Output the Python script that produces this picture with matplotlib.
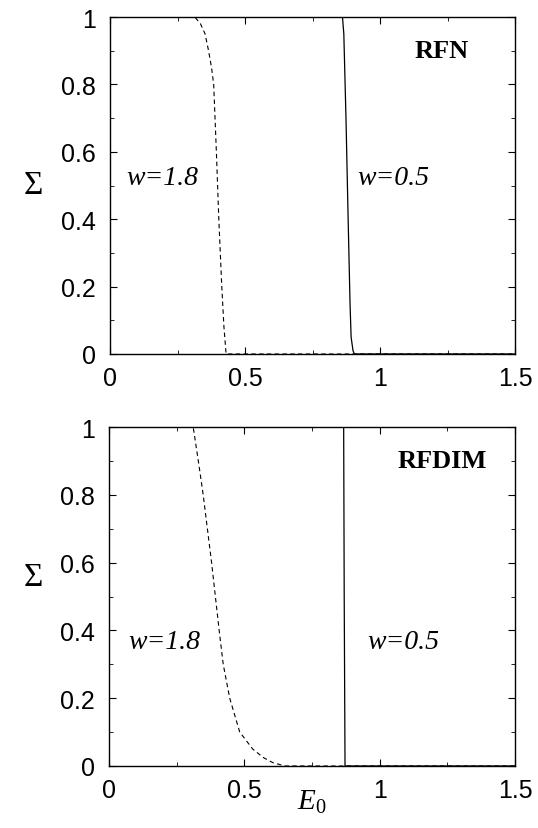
import numpy as np
import matplotlib
matplotlib.use('Agg')
import matplotlib.pyplot as plt
from matplotlib.ticker import MultipleLocator

# RFN panel
rfn_e_w18 = [0.0, 0.314, 0.335, 0.352, 0.365, 0.376, 0.384, 0.394, 0.403, 0.414, 0.422, 0.430, 1.5]
rfn_s_w18 = [1.0, 1.0, 0.98, 0.95, 0.9, 0.85, 0.8, 0.6, 0.4, 0.2, 0.08, 0.0, 0.0]
rfn_e_w05 = [0.0, 0.861, 0.866, 0.874, 0.882, 0.889, 0.893, 0.900, 0.905, 1.5]
rfn_s_w05 = [1.0, 1.0, 0.95, 0.7, 0.4, 0.15, 0.05, 0.01, 0.0, 0.0]

# RFDIM panel
rfd_e_w18 = [0.0, 0.311, 0.33, 0.348, 0.379, 0.407, 0.422, 0.446, 0.483, 0.531, 0.57, 0.605, 0.65, 1.5]
rfd_s_w18 = [1.0, 1.0, 0.9, 0.8, 0.6, 0.4, 0.3, 0.2, 0.1, 0.05, 0.025, 0.01, 0.0, 0.0]
rfd_e_w05 = [0.0, 0.867, 0.869, 0.872, 1.5]
rfd_s_w05 = [1.0, 1.0, 0.5, 0.0, 0.0]

panels = [
    (rfn_e_w18, rfn_s_w18, rfn_e_w05, rfn_s_w05, 'RFN', (0.06, 0.525), (0.915, 0.525)),
    (rfd_e_w18, rfd_s_w18, rfd_e_w05, rfd_s_w05, 'RFDIM', (0.07, 0.366), (0.955, 0.366)),
]

plt.rcParams['font.family'] = ['Liberation Sans', 'DejaVu Sans']
plt.rcParams['mathtext.fontset'] = 'custom'
plt.rcParams['mathtext.it'] = 'Liberation Serif:italic'
plt.rcParams['mathtext.rm'] = 'Liberation Serif'
fig = plt.figure(figsize=(5.38, 8.29), dpi=100)

boxes = [[110/538, 1-355/829, 405/538, 337/829],
         [109/538, 1-767/829, 406/538, 339/829]]
sigma_y = [186, 578]

for i, (e1, s1, e2, s2, name, p1, p2) in enumerate(panels):
    ax = fig.add_axes(boxes[i])
    ax.plot(e1, s1, color='black', lw=0.8, dashes=(4, 3))
    ax.plot(e2, s2, color='black', lw=0.9)
    ax.set_xlim(0, 1.5)
    ax.set_ylim(0, 1)
    ax.set_xticks([0, 0.5, 1.0, 1.5])
    ax.set_xticklabels(['0', '0.5', '1', '1.5'])
    ax.xaxis.set_minor_locator(MultipleLocator(0.25))
    ax.set_yticks([0, 0.2, 0.4, 0.6, 0.8, 1.0])
    ax.set_yticklabels(['0', '0.2', '0.4', '0.6', '0.8', '1'])
    ax.yaxis.set_minor_locator(MultipleLocator(0.1))
    ax.tick_params(which='both', direction='in', top=True, right=True, labelsize=18)
    ax.tick_params(which='major', length=5)
    ax.tick_params(axis='y', which='major', pad=10)
    ax.tick_params(axis='x', which='major', pad=9)
    ax.tick_params(which='minor', length=3)
    for sp in ax.spines.values():
        sp.set_linewidth(1.0)
    ax.text(p1[0], p1[1], 'w=1.8', family='Liberation Serif', style='italic',
            fontsize=20, va='center', ha='left')
    ax.text(p2[0], p2[1], 'w=0.5', family='Liberation Serif', style='italic',
            fontsize=20, va='center', ha='left')
    ax.text(1.23, 0.9, name, family='Liberation Serif', weight='bold',
            fontsize=19, va='center', ha='center')
    fig.text(33/538, 1 - sigma_y[i]/829, 'Σ', family='Liberation Serif',
             fontsize=24, ha='center', va='center')

fig.text(312/538, 1 - 802/829, r'$E_{\mathit{0}}$', fontsize=21, ha='center', va='center')

fig.savefig('out.png', dpi=100)
